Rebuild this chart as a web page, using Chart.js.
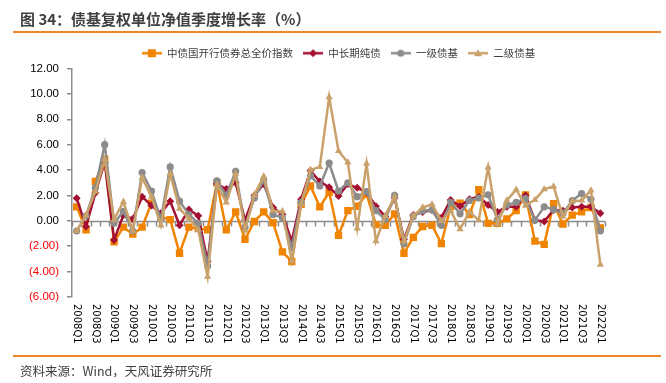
<!DOCTYPE html>
<html>
<head>
<meta charset="utf-8">
<script src="https://cdn.jsdelivr.net/npm/chart.js@4/dist/chart.umd.min.js"></script>
<style>
  html, body { margin: 0; padding: 0; background: #fff; }
  #wrap { position: relative; width: 666px; height: 383px; overflow: hidden; }
  #chart { position: absolute; left: 0; top: 0; }
  .title { position: absolute; left: 20px; top: 8px; font: bold 15px "Noto Sans CJK SC", sans-serif; color: #404040; }
  .rule { position: absolute; left: 13px; width: 648px; height: 2px; background: #F0862A; }
  .source { position: absolute; left: 20px; top: 361px; font: 12.5px "Noto Sans CJK SC", sans-serif; color: #404040; }
</style>
</head>
<body>
<div id="wrap">
  <canvas id="chart" width="666" height="383"></canvas>
  <div class="title">图 34：债基复权单位净值季度增长率（%）</div>
  <div class="rule" style="top:31px"></div>
  <div class="rule" style="top:355px"></div>
  <div class="source">资料来源：Wind，天风证券研究所</div>
</div>
<script>
const quarters = [
  '2008Q1','2008Q2','2008Q3','2008Q4','2009Q1','2009Q2','2009Q3','2009Q4',
  '2010Q1','2010Q2','2010Q3','2010Q4','2011Q1','2011Q2','2011Q3','2011Q4',
  '2012Q1','2012Q2','2012Q3','2012Q4','2013Q1','2013Q2','2013Q3','2013Q4',
  '2014Q1','2014Q2','2014Q3','2014Q4','2015Q1','2015Q2','2015Q3','2015Q4',
  '2016Q1','2016Q2','2016Q3','2016Q4','2017Q1','2017Q2','2017Q3','2017Q4',
  '2018Q1','2018Q2','2018Q3','2018Q4','2019Q1','2019Q2','2019Q3','2019Q4',
  '2020Q1','2020Q2','2020Q3','2020Q4','2021Q1','2021Q2','2021Q3','2021Q4',
  '2022Q1'
];
const seriesNames = ['中债国开行债券总全价指数', '中长期纯债', '一级债基', '二级债基'];

const cdbIndex = [1.1, -0.7, 3.1, 4.85, -1.65, -0.5, -1.05, -0.5, 1.4, 0.3,
  0.1, -2.55, -0.5, -0.6, -0.7, 3.0, -0.7, 0.7, -1.45, -0.05,
  0.7, -0.15, -2.45, -3.2, 1.3, 2.75, 1.1, 2.25, -1.15, 0.8,
  1.15, 2.1, -0.3, -0.35, 0.55, -2.55, -1.3, -0.45, -0.35, -1.8,
  1.15, 1.4, 0.5, 2.45, -0.2, -0.2, 0.15, 0.8, 2.05, -1.6,
  -1.85, 1.35, -0.25, 0.45, 0.7, 1.05, -0.55];
const longBond = [1.77, -0.45, 2.2, 4.6, -1.5, 0.45, 0.15, 1.9, 1.2, 0.6,
  1.55, -0.35, 0.9, 0.4, -3.2, 2.9, 2.5, 3.0, 0.05, 2.0,
  2.9, 1.05, 0.5, -1.6, 1.7, 3.95, 3.1, 2.65, 1.95, 2.9,
  2.6, 2.25, 1.15, 0.35, 1.8, -1.45, 0.45, 0.7, 0.85, 0.25,
  1.65, 1.15, 1.7, 1.9, 1.25, 0.7, 1.1, 1.1, 2.0, 0.05,
  -0.05, 0.85, 0.8, 1.05, 1.1, 1.1, 0.6];
const primaryFund = [-0.8, 0.4, 2.6, 6.0, -0.2, 0.75, -0.8, 3.8, 2.35, 0.1,
  4.25, 1.55, 0.5, -0.2, -3.55, 3.15, 2.0, 3.9, -0.5, 1.8,
  3.2, 0.5, 0.25, -2.1, 1.45, 3.55, 2.75, 4.55, 2.35, 3.0,
  1.9, 2.3, 0.8, 0.1, 2.0, -1.8, 0.35, 0.8, 0.85, -0.35,
  1.45, 0.55, 1.6, 1.8, 2.05, 0.1, 1.25, 1.45, 1.75, 0.05,
  1.1, 0.9, 0.6, 1.6, 2.15, 1.7, -0.8];
const secondaryFund = [-0.8, 0.45, 2.3, 4.8, 0.1, 1.5, -0.8, 3.4, 1.9, -0.35,
  3.7, 0.95, 0.2, -0.7, -4.4, 2.85, 1.45, 3.7, -0.75, 2.05,
  3.5, 0.8, 0.75, -3.15, 1.3, 4.0, 4.25, 9.75, 5.5, 4.6,
  -0.6, 4.5, -1.6, 0.4, 1.9, -1.6, 0.4, 1.05, 1.3, 0,
  0.8, -0.65, 0.7, 0.05, 4.2, -0.25, 1.6, 2.45, 1.2, 1.65,
  2.5, 2.7, 0.35, 1.55, 1.6, 2.4, -3.45];

const colors = ['#F08300', '#A50F32', '#8C8C8C', '#C9A26B'];
const styles = ['rect', 'rectRot', 'circle', 'triangle'];
const radii = [5.2, 4, 3.6, 4.2];

// little line+marker swatch for the legend, like the Excel one
function swatch(i) {
  const c = document.createElement('canvas');
  c.width = 20; c.height = 10;
  const g = c.getContext('2d');
  g.strokeStyle = colors[i]; g.fillStyle = colors[i]; g.lineWidth = 2.5;
  g.beginPath(); g.moveTo(0, 5); g.lineTo(20, 5); g.stroke();
  g.beginPath();
  if (i == 0) g.rect(6, 1, 8, 8);
  else if (i == 1) { g.moveTo(10, 1); g.lineTo(14, 5); g.lineTo(10, 9); g.lineTo(6, 5); }
  else if (i == 2) g.arc(10, 5, 3.6, 0, Math.PI * 2);
  else { g.moveTo(10, 1); g.lineTo(14, 8); g.lineTo(6, 8); }
  g.fill();
  return c;
}
const swatches = [0, 1, 2, 3].map(swatch);

const axisDecor = {
  id: 'axisDecor',
  beforeDatasetsDraw(chart) {
    const {ctx, chartArea, scales: {x, y}} = chart;
    const y0 = Math.round(y.getPixelForValue(0)) + 0.5;
    const step = x.getPixelForValue(1) - x.getPixelForValue(0);
    ctx.save();
    ctx.strokeStyle = '#8C8C8C';
    ctx.lineWidth = 1.5;
    ctx.beginPath();
    ctx.moveTo(chartArea.left, y0);
    ctx.lineTo(chartArea.right, y0);
    for (let i = 0; i <= quarters.length; i++) {
      const px = Math.round(x.getPixelForValue(i) - step / 2) + 0.5;
      ctx.moveTo(px, y0);
      ctx.lineTo(px, y0 + 5);
    }
    ctx.stroke();
    ctx.restore();
  },
  afterDraw(chart) {
    const {ctx, chartArea, scales: {x}} = chart;
    ctx.save();
    ctx.fillStyle = '#000';
    ctx.font = '10px "DejaVu Sans"';
    ctx.textAlign = 'left';
    ctx.textBaseline = 'middle';
    quarters.forEach((q, i) => {
      if (i % 2) return;
      ctx.save();
      ctx.translate(x.getPixelForValue(i), chartArea.bottom + 7);
      ctx.rotate(Math.PI / 2);
      ctx.fillText(q, 0, 0);
      ctx.restore();
    });
    ctx.restore();
  }
};

const seriesData = [cdbIndex, longBond, primaryFund, secondaryFund];

new Chart(document.getElementById('chart'), {
  type: 'line',
  data: {
    labels: quarters,
    datasets: seriesData.map((d, i) => ({
      label: seriesNames[i],
      data: d,
      borderColor: colors[i],
      backgroundColor: colors[i],
      borderWidth: 2.5,
      pointStyle: styles[i],
      pointRadius: radii[i],
      pointBorderWidth: 0,
      tension: 0,
      order: 3 - i
    }))
  },
  options: {
    responsive: false,
    animation: false,
    events: [],
    layout: { padding: { top: 38, bottom: 86, left: 0, right: 61 } },
    plugins: {
      tooltip: { enabled: false },
      legend: {
        position: 'top',
        fullSize: false,
        labels: {
          usePointStyle: true,
          pointStyleWidth: 20,
          padding: 10,
          color: '#404040',
          font: { family: '"Noto Sans CJK SC"', size: 10.5 },
          sort: (a, b) => a.datasetIndex - b.datasetIndex,
          generateLabels(chart) {
            const items = Chart.defaults.plugins.legend.labels.generateLabels(chart);
            items.forEach(it => { it.pointStyle = swatches[it.datasetIndex]; });
            return items;
          }
        }
      }
    },
    scales: {
      x: { display: false, offset: true },
      y: {
        min: -6, max: 12,
        afterFit: s => { s.width = 72; },
        border: { color: '#8C8C8C', width: 1.5 },
        grid: { drawOnChartArea: false, drawTicks: true, tickLength: 5, color: '#8C8C8C', lineWidth: 1.5 },
        ticks: {
          stepSize: 2,
          padding: 8,
          font: { family: '"Liberation Sans"', size: 11.5 },
          color: c => c.tick.value < 0 ? '#FF0000' : '#000',
          callback: v => v < 0 ? '(' + Math.abs(v).toFixed(2) + ')' : v.toFixed(2)
        }
      }
    }
  },
  plugins: [axisDecor]
});
</script>
</body>
</html>
